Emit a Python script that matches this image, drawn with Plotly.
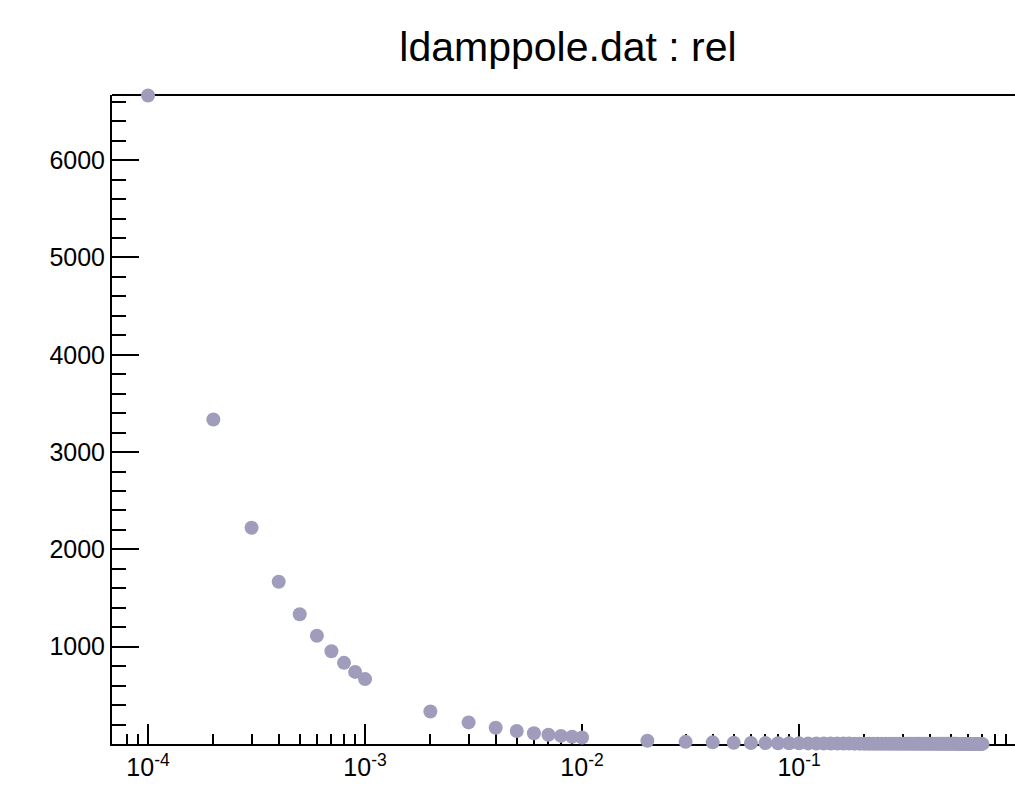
import plotly.graph_objects as go

# ---- data ----
x_vals = [
    1e-4, 2e-4, 3e-4, 4e-4, 5e-4, 6e-4, 7e-4, 8e-4, 9e-4,
    1e-3, 2e-3, 3e-3, 4e-3, 5e-3, 6e-3, 7e-3, 8e-3, 9e-3,
    0.01, 0.02, 0.03, 0.04, 0.05, 0.06, 0.07, 0.08, 0.09,
    0.10, 0.11, 0.12, 0.13, 0.14, 0.15, 0.16, 0.17, 0.18, 0.19,
    0.20, 0.21, 0.22, 0.23, 0.24, 0.25, 0.26, 0.27, 0.28, 0.29,
    0.30, 0.31, 0.32, 0.33, 0.34, 0.35, 0.36, 0.37, 0.38, 0.39,
    0.40, 0.41, 0.42, 0.43, 0.44, 0.45, 0.46, 0.47, 0.48, 0.49,
    0.50, 0.51, 0.52, 0.53, 0.54, 0.55, 0.56, 0.57, 0.58, 0.59,
    0.60, 0.61, 0.62, 0.63, 0.64, 0.65, 0.66, 0.67, 0.68, 0.69, 0.70,
]
rel_vals = [
    6665, 3335, 2223, 1668, 1334, 1112, 953, 834, 741,
    667, 334, 222, 167, 133, 111, 95, 83, 74,
    67, 33, 22, 17, 13, 11, 9.5, 8.3, 7.4,
    6.7, 6.1, 5.6, 5.1, 4.8, 4.4, 4.2, 3.9, 3.7, 3.5,
    3.3, 3.2, 3.0, 2.9, 2.8, 2.7, 2.6, 2.5, 2.4, 2.3,
    2.2, 2.2, 2.1, 2.0, 2.0, 1.9, 1.9, 1.8, 1.8, 1.7,
    1.7, 1.6, 1.6, 1.6, 1.5, 1.5, 1.4, 1.4, 1.4, 1.4,
    1.3, 1.3, 1.3, 1.3, 1.2, 1.2, 1.2, 1.2, 1.2, 1.1,
    1.1, 1.1, 1.1, 1.1, 1.0, 1.0, 1.0, 1.0, 1.0, 1.0, 1.0,
]
x_major_ticks = [1e-4, 1e-3, 1e-2, 1e-1]
x_major_text = ["10<sup>-4</sup>", "10<sup>-3</sup>", "10<sup>-2</sup>", "10<sup>-1</sup>"]
x_minor_ticks = [8e-5, 9e-5] + [m * 10.0 ** e for e in (-4, -3, -2, -1) for m in range(2, 10)]
y_major_ticks = [1000, 2000, 3000, 4000, 5000, 6000]
y_major_text = ["1000", "2000", "3000", "4000", "5000", "6000"]
y_minor_ticks = [v for v in range(200, 6700, 200) if v % 1000 != 0]
title_text = "ldamppole.dat : rel"

FONT = "Liberation Sans, Arial, sans-serif"

fig = go.Figure()
fig.add_trace(go.Scatter(
    x=x_vals, y=rel_vals, mode="markers",
    marker=dict(color="#a09cbc", size=14, line=dict(width=0)),
    cliponaxis=False, showlegend=False,
))

fig.update_layout(
    width=1015, height=790,
    margin=dict(l=112, r=0, t=95, b=46),
    paper_bgcolor="white", plot_bgcolor="white",
    font=dict(family=FONT, color="black"),
    title=dict(text=title_text, x=0.5596, xanchor="center", xref="container",
               y=1 - 47 / 790, yanchor="middle", yref="container",
               font=dict(family=FONT, size=41, color="black")),
    xaxis=dict(
        type="log", range=[-4.166, -0.005], layer="below traces",
        showgrid=False, zeroline=False,
        showline=True, linecolor="black", linewidth=2,
        ticks="inside", ticklen=20, tickwidth=2, tickcolor="black",
        tickmode="array", tickvals=x_major_ticks, ticktext=x_major_text,
        tickfont=dict(family=FONT, size=25, color="black"),
        minor=dict(tickmode="array", tickvals=x_minor_ticks, ticks="inside",
                   ticklen=10, tickwidth=2, tickcolor="black", showgrid=False),
    ),
    yaxis=dict(
        range=[0, 6670], layer="below traces",
        showgrid=False, zeroline=False,
        showline=True, linecolor="black", linewidth=2,
        ticks="inside", ticklen=27, tickwidth=2, tickcolor="black",
        tickmode="array", tickvals=y_major_ticks, ticktext=y_major_text,
        tickfont=dict(family=FONT, size=25, color="black"),
        minor=dict(tickmode="array", tickvals=y_minor_ticks, ticks="inside",
                   ticklen=14, tickwidth=2, tickcolor="black", showgrid=False),
    ),
    shapes=[dict(type="line", xref="paper", yref="paper", x0=0, x1=1, y0=1, y1=1,
                 line=dict(color="black", width=2), layer="below")],
)

fig.write_html("out.html")
